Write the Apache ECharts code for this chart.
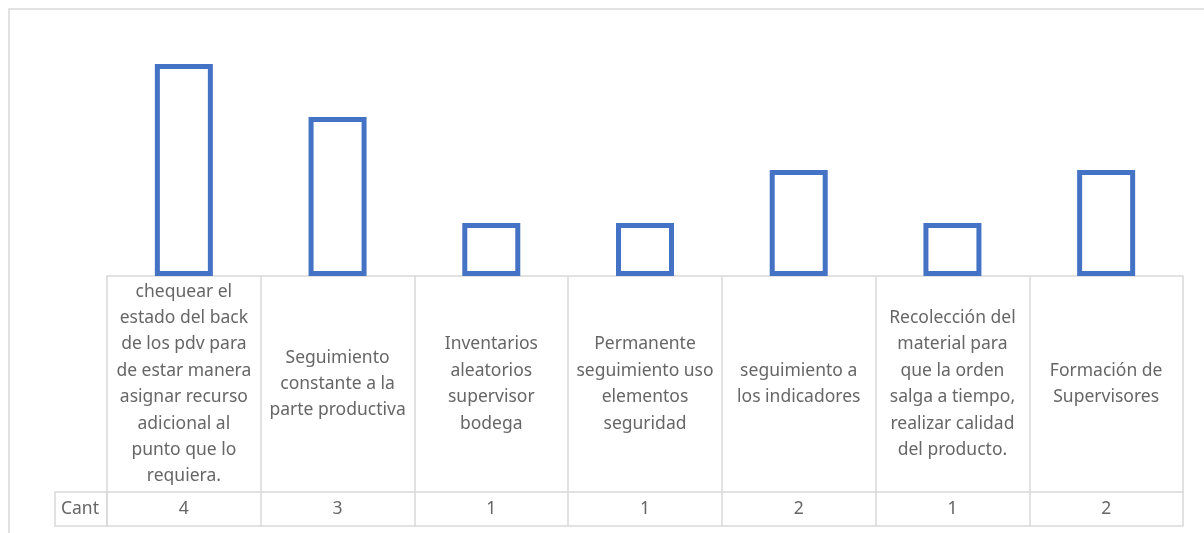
<!DOCTYPE html>
<html>
<head>
<meta charset="utf-8">
<script src="https://cdn.jsdelivr.net/npm/echarts@6/dist/echarts.min.js"></script>
<style>
html,body{margin:0;padding:0;background:#fff;}
#main{width:1204px;height:533px;}
</style>
</head>
<body>
<div id="main"></div>
<script>
// categorias (con saltos de linea como en la tabla)
var categorias = [
	'chequear el\nestado del back\nde los pdv para\nde estar manera\nasignar recurso\nadicional al\npunto que lo\nrequiera.',
	'Seguimiento\nconstante a la\nparte productiva',
	'Inventarios\naleatorios\nsupervisor\nbodega',
	'Permanente\nseguimiento uso\nelementos\nseguridad',
	'seguimiento a\nlos indicadores',
	'Recolección del\nmaterial para\nque la orden\nsalga a tiempo,\nrealizar calidad\ndel producto.',
	'Formación de\nSupervisores'
];
var cant = [4, 3, 1, 1, 2, 1, 2];
var serieNombre = 'Cant';

var gris = '#d9d9d9';
var texto = '#666666';
var fuente = 'Noto Sans';

var chart = echarts.init(document.getElementById('main'));
var option = {
	animation: false,
	backgroundColor: '#fff',
	grid: {left: 107, right: 21, top: 11, bottom: 257},
	yAxis: {type: 'value', min: 0, max: 5, show: false},
	xAxis: [{
		// fila de categorias
		type: 'category',
		data: categorias,
		position: 'bottom',
		axisLine: {show: true, lineStyle: {color: gris, width: 1.5}},
		axisTick: {show: true, length: 250, interval: 0, lineStyle: {color: gris, width: 1.5}},
		axisLabel: {
			interval: 0, margin: 108, verticalAlign: 'middle', align: 'center',
			color: texto, fontFamily: fuente, fontSize: 17.5, lineHeight: 26.4
		}
	}, {
		// fila de valores
		type: 'category',
		data: cant.map(String),
		position: 'bottom',
		offset: 216,
		axisLine: {show: true, lineStyle: {color: gris, width: 1.5}},
		axisTick: {show: false},
		axisLabel: {interval: 0, margin: 17, verticalAlign: 'middle', color: texto, fontFamily: fuente, fontSize: 17.5},
		name: serieNombre,
		nameLocation: 'start',
		nameGap: 8,
		nameTextStyle: {color: texto, fontFamily: fuente, fontSize: 17.5, verticalAlign: 'top', lineHeight: 34, align: 'right'}
	}, {
		// borde inferior de la tabla
		type: 'category',
		data: categorias,
		position: 'bottom',
		offset: 250,
		axisLine: {show: true, lineStyle: {color: gris, width: 1.5}},
		axisTick: {show: false},
		axisLabel: {show: false}
	}],
	series: [{
		name: serieNombre,
		type: 'bar',
		xAxisIndex: 0,
		data: cant,
		barWidth: 58,
		itemStyle: {color: '#fff', borderColor: '#4472C4', borderWidth: 5}
	}],
	graphic: [{
		type: 'rect', silent: true,
		shape: {x: 9, y: 9, width: 1300, height: 600},
		style: {fill: 'none', stroke: gris, lineWidth: 1.5}
	}, {
		type: 'rect', silent: true,
		shape: {x: 55, y: 492, width: 52, height: 34},
		style: {fill: 'none', stroke: gris, lineWidth: 1.5}
	}]
};
chart.setOption(option);
</script>
</body>
</html>
